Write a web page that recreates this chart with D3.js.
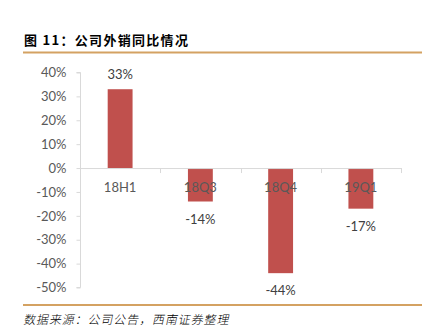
<!DOCTYPE html>
<html><head><meta charset="utf-8">
<script src="https://cdn.jsdelivr.net/npm/d3@7"></script>
<style>body{margin:0;background:#fff}svg{display:block}</style>
</head><body>
<script>
const categories = ["18H1", "18Q3", "18Q4", "19Q1"];
const values = [0.33, -0.14, -0.44, -0.17];
const valueLabels = ["33%", "-14%", "-44%", "-17%"];
const yTicks = [0.4, 0.3, 0.2, 0.1, 0, -0.1, -0.2, -0.3, -0.4, -0.5];

const W = 438, H = 336;
const svg = d3.select("body").append("svg").attr("width", W).attr("height", H);

svg.append("text").attr("x", 24).attr("y", 45)
  .attr("font-family", "Noto Sans CJK SC").attr("font-weight", "bold")
  .attr("font-size", 13).attr("letter-spacing", 1.3).attr("fill", "#000")
  .text("图 11：公司外销同比情况");
svg.append("line").attr("x1", 23).attr("x2", 422).attr("y1", 52.5).attr("y2", 52.5)
  .attr("stroke", "#d4a262").attr("stroke-width", 2);
svg.append("line").attr("x1", 23).attr("x2", 422).attr("y1", 305).attr("y2", 305)
  .attr("stroke", "#d4a262").attr("stroke-width", 2);
svg.append("text").attr("x", 24).attr("y", 324)
  .attr("font-family", "Noto Sans CJK SC").attr("font-size", 12).attr("font-weight", 300)
  .attr("letter-spacing", 0.9)
  .attr("transform", "skewX(-12) translate(68,0)")
  .attr("fill", "#000").text("数据来源：公司公告，西南证券整理");

const x = d3.scaleBand().domain(categories).range([80, 401]).paddingInner(0.69).paddingOuter(0.345);
const y = d3.scaleLinear().domain([-0.5, 0.4]).range([287.5, 72.5]);

const yAxis = svg.append("g").attr("transform", "translate(80.5,0)")
  .call(d3.axisLeft(y).tickValues(yTicks).tickFormat(d => Math.round(d * 100) + "%").tickSize(4).tickPadding(10));
yAxis.select(".domain").attr("stroke", "#d9d9d9").attr("d", `M-4,${y(0.4)}H0V${y(-0.5)}H-4`);
yAxis.selectAll(".tick line").attr("stroke", "#d9d9d9");
yAxis.selectAll(".tick text").attr("font-family", "Lato, 'Open Sans', sans-serif").attr("font-size", 13).attr("fill", "#595959");

svg.selectAll(".bar").data(values).enter().append("rect")
  .attr("x", (d, i) => x(categories[i]))
  .attr("width", x.bandwidth())
  .attr("y", d => y(Math.max(0, d)))
  .attr("height", d => Math.abs(y(d) - y(0)))
  .attr("fill", "#c0504d");

const step = x.step();
const xAxis = svg.append("g").attr("transform", `translate(0,${y(0)})`);
xAxis.append("line").attr("x1", 80).attr("x2", 401).attr("y1", 0.5).attr("y2", 0.5).attr("stroke", "#d9d9d9");
categories.forEach((c, i) => {
  const xt = Math.round(80 + step * (i + 1)) + 0.5;
  xAxis.append("line").attr("x1", xt).attr("x2", xt).attr("y1", 0).attr("y2", 5).attr("stroke", "#d9d9d9");
});
xAxis.selectAll(".cat").data(categories).enter().append("text")
  .attr("x", d => x(d) + x.bandwidth() / 2).attr("y", 24)
  .attr("text-anchor", "middle").attr("font-family", "Lato, 'Open Sans', sans-serif")
  .attr("font-size", 13).attr("fill", "#595959").text(d => d);

svg.selectAll(".vl").data(values).enter().append("text")
  .attr("x", (d, i) => x(categories[i]) + x.bandwidth() / 2)
  .attr("y", d => d >= 0 ? y(d) - 10 : y(d) + 22)
  .attr("text-anchor", "middle").attr("font-family", "Lato, 'Open Sans', sans-serif")
  .attr("font-size", 13).attr("fill", "#404040").text((d, i) => valueLabels[i]);
</script>
</body></html>
